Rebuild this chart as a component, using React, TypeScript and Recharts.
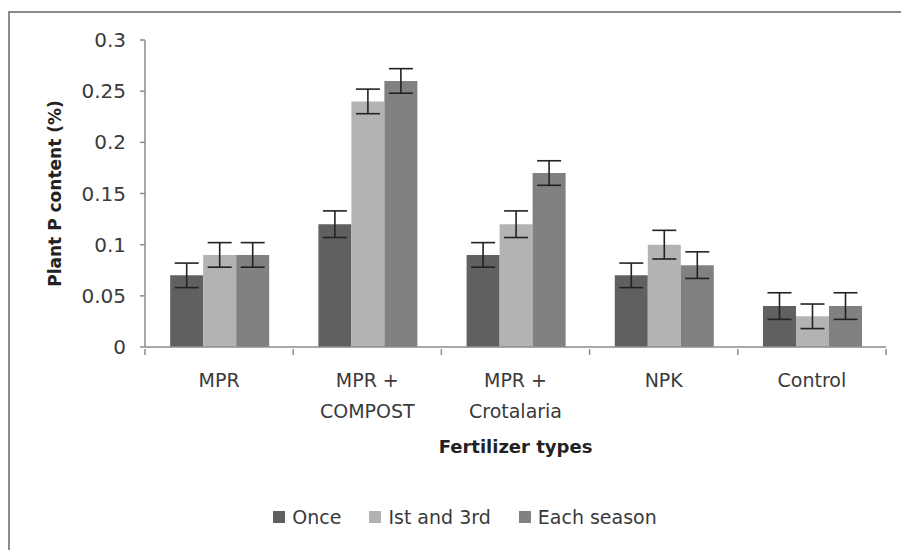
import { BarChart, Bar, XAxis, YAxis, Legend, ErrorBar } from "recharts";

// ── Data ───────────────────────────────────────────────────────────────────
const categories = ["MPR", "MPR +\nCOMPOST", "MPR +\nCrotalaria", "NPK", "Control"];
const once = [0.07, 0.12, 0.09, 0.07, 0.04];
const istAnd3rd = [0.09, 0.24, 0.12, 0.1, 0.03];
const eachSeason = [0.09, 0.26, 0.17, 0.08, 0.04];
const onceErr = [0.012, 0.013, 0.012, 0.012, 0.013];
const istErr = [0.012, 0.012, 0.013, 0.014, 0.012];
const eachErr = [0.012, 0.012, 0.012, 0.013, 0.013];
const yTicks = [0, 0.05, 0.1, 0.15, 0.2, 0.25, 0.3];

const seriesNames = ["Once", "Ist and 3rd", "Each season"];
const seriesColors = ["#606060", "#b3b3b3", "#818181"];

const FONT = "'DejaVu Sans', sans-serif";
const AXIS = "#8c8c8c";
const TEXT = "#3a3a3a";

const data = categories.map((c, i) => ({
  name: c,
  once: once[i],
  ist: istAnd3rd[i],
  each: eachSeason[i],
  onceErr: onceErr[i],
  istErr: istErr[i],
  eachErr: eachErr[i],
}));

// category label + tick marks on the band boundaries (Excel style)
const CatTick = (props: any) => {
  const { x, y, payload, index } = props;
  const off = payload?.offset ?? 0;
  const lines = String(payload.value).split("\n");
  const last = index === categories.length - 1;
  return (
    <g>
      <line x1={x - off} x2={x - off} y1={y} y2={y + 6} stroke={AXIS} strokeWidth={1.5} />
      {last && <line x1={x + off} x2={x + off} y1={y} y2={y + 6} stroke={AXIS} strokeWidth={1.5} />}
      <text x={x} y={y + 38} textAnchor="middle" fill={TEXT} fontSize={19} fontFamily={FONT}>
        {lines.map((l, k) => (
          <tspan key={k} x={x} dy={k === 0 ? 0 : 31}>{l}</tspan>
        ))}
      </text>
    </g>
  );
};

const LegendBox = () => (
  <div style={{ display: "flex", justifyContent: "center", alignItems: "center", height: 30,
    paddingLeft: 44, fontFamily: FONT, fontSize: 19, color: TEXT }}>
    {seriesNames.map((n, i) => (
      <div key={n} style={{ display: "flex", alignItems: "center", marginRight: i < 2 ? 28 : 0 }}>
        <span style={{ width: 12, height: 12, background: seriesColors[i], marginRight: 7, display: "inline-block" }} />
        <span>{n}</span>
      </div>
    ))}
  </div>
);

export default function App() {
  return (
    <div style={{ position: "fixed", left: 0, top: 0, width: 901, height: 550, background: "#fff", overflow: "hidden" }}>
      <div style={{ position: "absolute", left: 8, top: 11, width: 920, height: 560,
        borderLeft: `2px solid ${AXIS}`, borderTop: `2px solid ${AXIS}` }} />
      <div style={{ position: "absolute", left: 0, top: 0 }}>
        <BarChart width={901} height={550} data={data}
          margin={{ top: 40, right: 15, bottom: 18, left: 0 }}
          barCategoryGap="17%" barGap={0}>
          <XAxis dataKey="name" interval={0} height={155} tickSize={0} tickLine={false}
            axisLine={{ stroke: AXIS, strokeWidth: 1.5 }} tick={<CatTick />}
            label={{ value: "Fertilizer types", position: "insideTop", offset: 93,
              style: { fontFamily: FONT, fontSize: 18, fontWeight: 700, fill: "#222" } }} />
          <YAxis domain={[0, 0.3]} ticks={yTicks} width={145} tickSize={5} tickMargin={14}
            axisLine={{ stroke: AXIS, strokeWidth: 1.5 }} tickLine={{ stroke: AXIS, strokeWidth: 1.5 }}
            tick={{ fill: TEXT, fontSize: 20, fontFamily: FONT }}
            tickFormatter={(v: number) => String(v)}
            label={{ value: "Plant P content (%)", angle: -90, position: "center", dx: -18,
              style: { fontFamily: FONT, fontSize: 17, fontWeight: 700, fill: "#222" } }} />
          <Legend verticalAlign="bottom" content={<LegendBox />} />
          <Bar dataKey="once" name={seriesNames[0]} fill={seriesColors[0]} isAnimationActive={false}>
            <ErrorBar dataKey="onceErr" width={12} stroke="#222" strokeWidth={1.6} isAnimationActive={false} />
          </Bar>
          <Bar dataKey="ist" name={seriesNames[1]} fill={seriesColors[1]} isAnimationActive={false}>
            <ErrorBar dataKey="istErr" width={12} stroke="#222" strokeWidth={1.6} isAnimationActive={false} />
          </Bar>
          <Bar dataKey="each" name={seriesNames[2]} fill={seriesColors[2]} isAnimationActive={false}>
            <ErrorBar dataKey="eachErr" width={12} stroke="#222" strokeWidth={1.6} isAnimationActive={false} />
          </Bar>
        </BarChart>
      </div>
    </div>
  );
}
